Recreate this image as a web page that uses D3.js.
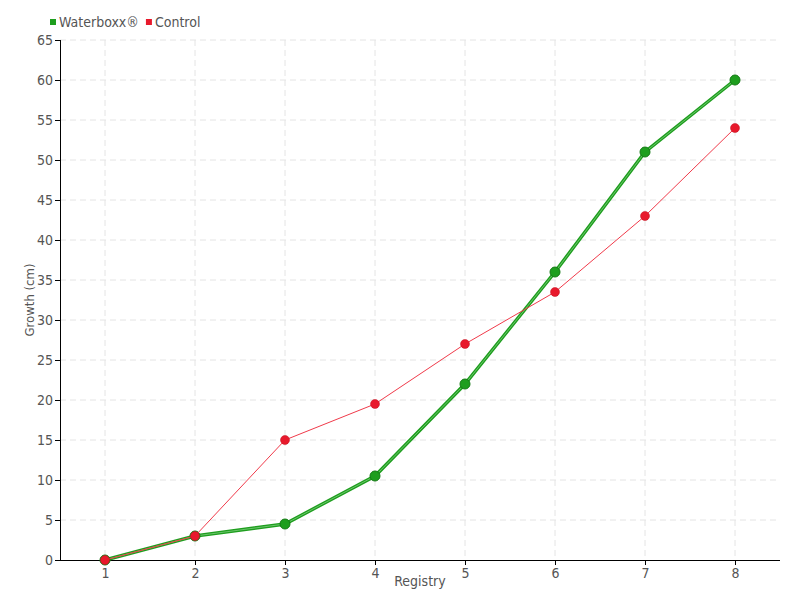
<!DOCTYPE html>
<html><head><meta charset="utf-8">
<script src="https://cdn.jsdelivr.net/npm/d3@7"></script>
<style>
body{margin:0;background:#fff;}
text{font-family:"DejaVu Sans Condensed","DejaVu Sans",sans-serif;fill:#555;}
</style></head><body>
<svg id="c" width="800" height="600"></svg>
<script>
const categories = [1,2,3,4,5,6,7,8];
const waterboxx = [0,3,4.5,10.5,22,36,51,60];
const control = [0,3,15,19.5,27,33.5,43,54];
const yTicks = [0,5,10,15,20,25,30,35,40,45,50,55,60,65];
const seriesNames = ["Waterboxx®","Control"];
const colors = ["#1e9e1e","#e8192c"];

const svg = d3.select("#c");
const m = {l:60, r:20, t:40, b:40};
const W = 800, H = 600;
const x = d3.scalePoint().domain(categories).range([m.l, W-m.r]).padding(0.5);
const y = d3.scaleLinear().domain([0,65]).range([H-m.b, m.t]);

// grid
const g = svg.append("g");
g.selectAll(".hg").data(yTicks.filter(d=>d>0)).join("line")
  .attr("x1",m.l).attr("x2",W-m.r).attr("y1",d=>y(d)).attr("y2",d=>y(d))
  .attr("stroke","#e4e4e4").attr("stroke-dasharray","6,4");
g.selectAll(".vg").data(categories).join("line")
  .attr("x1",d=>x(d)).attr("x2",d=>x(d)).attr("y1",m.t).attr("y2",H-m.b)
  .attr("stroke","#e4e4e4").attr("stroke-dasharray","6,4");

// axes
const ya = svg.append("g").attr("transform",`translate(${m.l},0)`)
  .call(d3.axisLeft(y).tickValues(yTicks).tickSize(5).tickPadding(2));
const xa = svg.append("g").attr("transform",`translate(0,${H-m.b})`)
  .call(d3.axisBottom(x).tickSize(5).tickPadding(3));
[ya,xa].forEach(a=>{
  a.select(".domain").attr("stroke","#000").attr("stroke-width",1);
  a.selectAll(".tick line").attr("stroke","#000");
  a.selectAll("text").attr("font-size",14).attr("fill","#555");
});
xa.select(".domain").attr("d",`M${m.l},0.5H${W-m.r}`);
ya.select(".domain").attr("d",`M0.5,${m.t}V${H-m.b}`);

svg.append("text").attr("x",(m.l+W-m.r)/2).attr("y",586).attr("text-anchor","middle")
  .attr("font-size",14).text("Registry");
svg.append("text").attr("transform",`translate(34,${(m.t+H-m.b)/2}) rotate(-90)`)
  .attr("text-anchor","middle").attr("font-size",13).text("Growth (cm)");

const line = d3.line().x((d,i)=>x(categories[i])).y(d=>y(d));
// green series
svg.append("path").datum(waterboxx).attr("d",line).attr("fill","none")
  .attr("stroke",colors[0]).attr("stroke-width",3.5);
svg.append("path").datum(waterboxx).attr("d",line).attr("fill","none")
  .attr("stroke","#7fcf7f").attr("stroke-width",0.8);
svg.selectAll(".gp").data(waterboxx).join("circle")
  .attr("cx",(d,i)=>x(categories[i])).attr("cy",d=>y(d)).attr("r",5)
  .attr("fill",colors[0]).attr("stroke","#147a14").attr("stroke-width",1);
// red series
svg.append("path").datum(control).attr("d",line).attr("fill","none")
  .attr("stroke","#f03a4a").attr("stroke-width",1);
svg.selectAll(".rp").data(control).join("circle")
  .attr("cx",(d,i)=>x(categories[i])).attr("cy",d=>y(d)).attr("r",4.5)
  .attr("fill",colors[1]).attr("stroke","#c01020").attr("stroke-width",0.5);

// legend
const lg = svg.append("g").attr("transform","translate(50,22)");
let lx = 0;
seriesNames.forEach((n,i)=>{
  lg.append("rect").attr("x",lx).attr("y",-3).attr("width",6).attr("height",6).attr("fill",colors[i]);
  const t = lg.append("text").attr("x",lx+9).attr("y",5).attr("font-size",14).text(n);
  lx += 9 + t.node().getComputedTextLength() + 7;
});
</script></body></html>
